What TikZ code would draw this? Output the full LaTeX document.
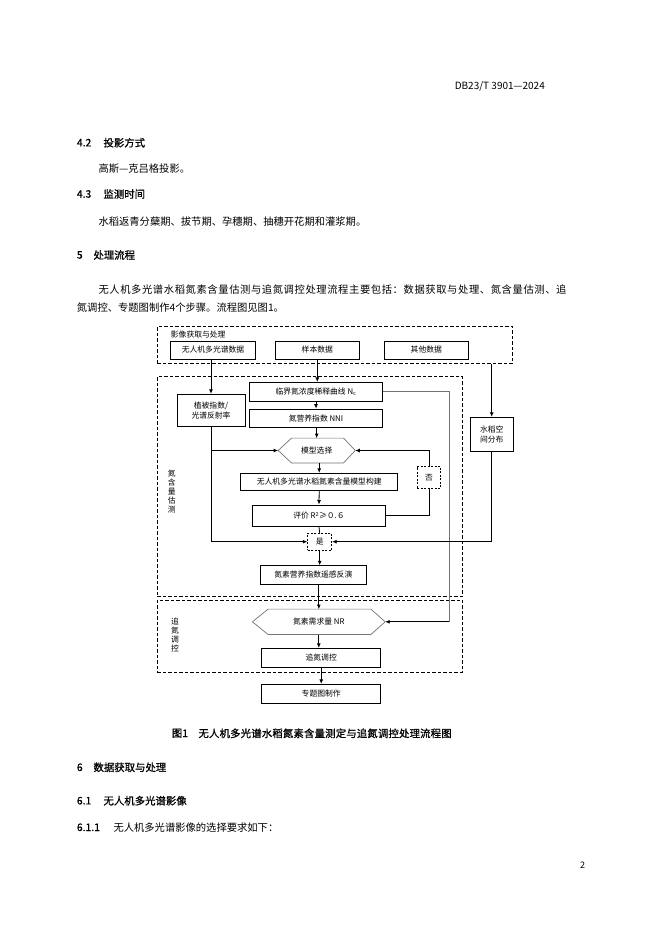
\documentclass[tikz,border=0pt]{standalone}
\usepackage{fontspec}
\setmainfont{Noto Sans CJK SC}
\newfontfamily\heifont[FakeBold=0.8]{Noto Sans CJK SC}
\usetikzlibrary{arrows.meta,calc}
\newcommand\flowfont{\fontsize{7.8}{9.4}\selectfont}
\newcommand\bodyfont{\fontsize{10.3}{12}\selectfont}
\newcommand\headfont{\heifont\fontsize{10.4}{12}\selectfont}
\begin{document}
\begin{tikzpicture}[x=1pt,y=-1pt,
  box/.style={draw, line width=0.9pt, inner sep=0pt, font=\flowfont, align=center},
  region/.style={draw, dash pattern=on 3.5pt off 2pt, line width=0.9pt, inner sep=0pt},
  dbox/.style={draw, dash pattern=on 2pt off 1.5pt, line width=0.9pt, inner sep=0pt, font=\flowfont},
  hexnode/.style={inner sep=0pt, font=\flowfont},
  hexline/.style={draw=black!55, line width=0.7pt},
  ln/.style={line width=0.8pt},
  gln/.style={draw=black!55, line width=0.9pt},
  arr/.style={line width=0.8pt, -{Latex[length=4.5pt,width=4pt]}},
  txt/.style={inner sep=0pt, anchor=west, font=\bodyfont},
  htxt/.style={inner sep=0pt, anchor=west, font=\headfont},
  lbl/.style={inner sep=0pt, font=\flowfont, align=center}]
\path[use as bounding box, fill=white] (0,0) rectangle (662,936);

% page text
\node[inner sep=0pt, anchor=east, font=\fontsize{10}{12}\selectfont] (hdr) at (545,86) {DB23/T 3901—2024};
\node[htxt] (h42n) at (76.7,142.7) {4.2};
\node[htxt] (h42) at (103.3,142.7) {投影方式};
\node[txt] (p42) at (98.3,168.3) {高斯—克吕格投影。};
\node[htxt] (h43n) at (76.7,194) {4.3};
\node[htxt] (h43) at (103.3,194) {监测时间};
\node[txt] (p43) at (98.3,221.7) {水稻返青分蘖期、拔节期、孕穗期、抽穗开花期和灌浆期。};
\node[htxt] (h5n) at (76.7,255) {5};
\node[htxt] (h5) at (93.3,255) {处理流程};
\node[txt] (p5a) at (98.3,290) {\addfontfeature{LetterSpace=5.8}无人机多光谱水稻氮素含量估测与追氮调控处理流程主要包括：数据获取与处理、氮含量估测、追};
\node[txt] (p5b) at (76.7,307.3) {氮调控、专题图制作4个步骤。流程图见图1。};

% regions
\node[region, minimum width=355.4, minimum height=36.6] (r1) at (335,345) {};
\node[region, minimum width=305, minimum height=220] (r2) at (309.8,486.7) {};
\node[region, minimum width=305, minimum height=72.3] (r3) at (309.8,636.2) {};
\node[lbl, anchor=west] (l1) at (170.7,335) {影像获取与处理};
\node[lbl, font=\fontsize{7.8}{9}\selectfont] (l2) at (171.7,491.7) {氮\\含\\量\\估\\测};
\node[lbl, font=\fontsize{7.8}{9}\selectfont] (l3) at (175,634.7) {追\\氮\\调\\控};

% boxes
\node[box, minimum width=84.6, minimum height=18] (n1) at (213,350) {无人机多光谱数据};
\node[box, minimum width=84, minimum height=18] (n2) at (317.3,350) {样本数据};
\node[box, minimum width=84, minimum height=18] (n3) at (426.3,350) {其他数据};
\node[box, minimum width=68, minimum height=32.5, font=\fontsize{7.8}{9.6}\selectfont] (zb) at (211,410.5) {植被指数/\\光谱反射率};
\node[box, minimum width=133, minimum height=18.7] (lj) at (316,391.7) {临界氮浓度稀释曲线 N\textsubscript{c}};
\node[box, minimum width=133, minimum height=18.3] (nni) at (316,418.2) {氮营养指数 NNI};
\node[box, minimum width=43.3, minimum height=34.4, font=\fontsize{7.8}{9.6}\selectfont] (sd) at (491.7,434.5) {水稻空\\间分布};
\node[hexnode, minimum width=76.7, minimum height=24.4] (mx) at (316.7,450.5) {模型选择};
\draw[hexline] (mx.west) -- ([xshift=13.4pt]mx.north west) -- ([xshift=-11.7pt]mx.north east) -- (mx.east) -- ([xshift=-11.7pt]mx.south east) -- ([xshift=13.4pt]mx.south west) -- cycle;
\node[box, minimum width=157, minimum height=17.4] (mb) at (319.2,482) {无人机多光谱水稻氮素含量模型构建};
\node[box, minimum width=133.4, minimum height=21.7] (pj) at (319,515.8) {评价 R\textsuperscript{2}≥０.６};
\node[dbox, minimum width=23.4, minimum height=21.6] (fou) at (429,477.5) {否};
\node[dbox, minimum width=24, minimum height=16.7] (shi) at (319.7,541.7) {是};
\node[box, minimum width=106.7, minimum height=18.6] (yg) at (313.3,575) {氮素营养指数遥感反演};
\node[hexnode, minimum width=132.3, minimum height=25] (nr) at (318.8,621.8) {氮素需求量 NR};
\draw[hexline] (nr.west) -- ([xshift=15.6pt]nr.north west) -- ([xshift=-14.3pt]nr.north east) -- (nr.east) -- ([xshift=-14.3pt]nr.south east) -- ([xshift=15.6pt]nr.south west) -- cycle;
\node[box, minimum width=119, minimum height=19] (zd) at (321.2,657.8) {追氮调控};
\node[box, minimum width=119, minimum height=19] (zt) at (321.2,693.8) {专题图制作};
\coordinate (rx) at (449,0);

% connectors
\draw[arr] (n1.south -| zb.north) -- (zb.north);
\draw[arr] (n2.south) -- (n2.south |- lj.north);
\draw[arr] (r1.south -| sd.north) -- (sd.north);
\draw[arr] (lj.south) -- (nni.north);
\draw[arr] (nni.south -| mx.north) -- (mx.north);
\draw[gln] (lj.east) -| (rx |- nr.east);
\draw[arr] (rx |- nr.east) -- (nr.east);
\draw[arr] (zb.south) |- (shi.west);
\draw[arr] (zb.south |- mx.west) -- (mx.west);
\draw[arr] (mx.south -| mb.north) -- (mb.north);
\draw[arr] (mb.south) -- (pj.north);
\draw[ln] (pj.east) -| (fou.south);
\draw[arr] (fou.north) |- (mx.east);
\draw[ln] (pj.south) -- (shi.north);
\draw[arr] (sd.south) |- (shi.east);
\draw[arr] (shi.south) -- (shi.south |- yg.north);
\draw[arr] (yg.south -| nr.north) -- (nr.north);
\draw[arr] (nr.south) -- (nr.south |- zd.north);
\draw[arr] (zd.south) -- (zt.north);

% caption and following text
\node[htxt] (capn) at (171.7,733.3) {图1};
\node[htxt] (cap) at (198.3,733.3) {\addfontfeature{LetterSpace=1.5}无人机多光谱水稻氮素含量测定与追氮调控处理流程图};
\node[htxt] (h6n) at (76.7,767.3) {6};
\node[htxt] (h6) at (93.3,767.3) {数据获取与处理};
\node[htxt] (h61n) at (76.7,800.7) {6.1};
\node[htxt] (h61) at (103.3,800.7) {无人机多光谱影像};
\node[htxt] (h611n) at (76.7,827.3) {6.1.1};
\node[txt] (p611) at (113.3,827.3) {无人机多光谱影像的选择要求如下：};
\node[inner sep=0pt, font=\fontsize{9}{10}\selectfont] (pg) at (582.7,865) {2};
\end{tikzpicture}
\end{document}
